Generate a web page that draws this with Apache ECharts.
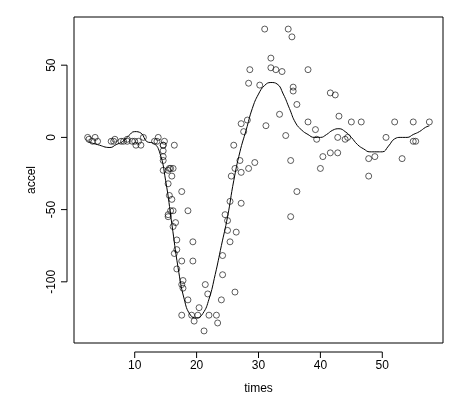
<!DOCTYPE html><html><head><meta charset="utf-8"><script src="https://cdn.jsdelivr.net/npm/echarts@6/dist/echarts.min.js"></script></head><body style="margin:0;background:#fff"><div id="c" style="width:474px;height:400px"></div><script>
const times=[2.4,2.6,3.2,3.6,4.0,6.2,6.6,6.8,7.8,8.2,8.8,8.8,9.6,10.0,10.2,10.6,11.0,11.4,13.2,13.6,13.8,14.6,14.6,14.6,14.6,14.6,14.6,14.8,15.4,15.4,15.4,15.4,15.6,15.6,15.8,15.8,16.0,16.0,16.2,16.2,16.2,16.4,16.4,16.6,16.8,16.8,16.8,17.6,17.6,17.6,17.6,17.8,17.8,18.6,18.6,19.2,19.4,19.4,19.6,20.2,20.4,21.2,21.4,21.8,22.0,23.2,23.4,24.0,24.2,24.2,24.6,25.0,25.0,25.4,25.4,25.6,26.0,26.2,26.2,26.4,27.0,27.2,27.2,27.2,27.6,28.2,28.4,28.4,28.6,29.4,30.2,31.0,31.2,32.0,32.0,32.8,33.4,33.8,34.4,34.8,35.2,35.2,35.4,35.6,35.6,36.2,36.2,38.0,38.0,39.2,39.4,40.0,40.4,41.6,41.6,42.4,42.8,42.8,43.0,44.0,44.4,45.0,46.6,47.8,47.8,48.8,50.6,52.0,53.2,55.0,55.0,55.4,57.6];
const accel=[0.0,-1.3,-2.7,0.0,-2.7,-2.7,-2.7,-1.3,-2.7,-2.7,-1.3,-2.7,-2.7,-2.7,-5.4,-2.7,-5.4,0.0,-2.7,-2.7,0.0,-13.3,-5.4,-5.4,-9.3,-16.0,-22.8,-2.7,-22.8,-32.1,-53.5,-54.9,-40.2,-21.5,-21.5,-50.8,-42.9,-26.8,-21.5,-50.8,-61.7,-5.4,-80.4,-59.0,-71.0,-91.1,-77.7,-37.5,-85.6,-123.1,-101.9,-99.1,-104.4,-112.5,-50.8,-123.1,-85.6,-72.3,-127.2,-123.1,-117.9,-134.0,-101.9,-108.4,-123.1,-123.1,-128.5,-112.5,-95.1,-81.8,-53.5,-64.4,-57.6,-72.3,-44.3,-26.8,-5.4,-107.1,-21.5,-65.6,-16.0,-45.6,-24.2,9.5,4.0,12.0,-21.5,37.5,46.9,-17.4,36.2,75.0,8.1,54.9,48.2,46.9,16.0,45.6,1.3,75.0,-16.0,-54.9,69.6,34.8,32.1,-37.5,22.8,46.9,10.7,5.4,-1.3,-21.5,-13.3,30.8,-10.7,29.4,0.0,-10.7,14.7,-1.3,0.0,10.7,10.7,-26.8,-14.7,-13.3,0.0,10.7,-14.7,-2.7,10.7,-2.7,10.7];
const fitX=[2.4,4,6,7,8,9,10,11,12,13,14,15,16,17,18,19,20,21,22,23,24,25,26,27,28,29,30,31,32,33,34,35,36,37,38,39,40,41,42,43,44,45,46,47,48,49,50,51,52,53,54,55,56,57,57.6];
const fitY=[-3,-5,-7,-5,-3,1,4,3,-3,-4,-10,-30,-60,-90,-112,-123,-125,-122,-112,-95,-75,-55,-30,-10,5,20,30,36,38,37,30,20,10,5,2,0,0,2,5,6,4,0,-5,-8,-10,-10,-10,-6,-1,0,0,2,4,7,8];
const xTicks=[10,20,30,40,50], yTicks=[-100,-50,0,50];
const pts=times.map((t,i)=>[t,accel[i]]);
const fit=fitX.map((t,i)=>[t,fitY[i]]);
const f='Liberation Sans';
const c=echarts.init(document.getElementById('c'));
const xMin=0.192,xMax=59.808,yMin=-142.36,yMax=83.36,off=7,tl=6;
const gx=74,gr=31,gt=17,gb=55,W=474,H=400;
c.setOption({animation:false,
grid:{left:gx,right:gr,top:gt,bottom:gb,show:true,borderColor:'#000',borderWidth:1,containLabel:false},
xAxis:{type:'value',min:xMin,max:xMax,name:'times',nameLocation:'middle',nameGap:40,nameTextStyle:{fontFamily:f,fontSize:12,color:'#000'},
 splitLine:{show:false},axisLine:{show:false,onZero:false},axisTick:{show:false},
 axisLabel:{customValues:xTicks,fontFamily:f,fontSize:12,color:'#000',margin:off+tl+4}},
yAxis:{type:'value',min:yMin,max:yMax,name:'accel',nameLocation:'middle',nameGap:36,nameTextStyle:{fontFamily:f,fontSize:12,color:'#000'},
 splitLine:{show:false},axisLine:{show:false,onZero:false},axisTick:{show:false},
 axisLabel:{customValues:yTicks,rotate:90,fontFamily:f,fontSize:12,color:'#000',margin:off+tl+3}},
series:[{type:'scatter',data:pts,symbol:'circle',symbolSize:6,itemStyle:{color:'transparent',borderColor:'#000',borderWidth:0.8}},
{type:'line',data:fit,smooth:true,showSymbol:false,lineStyle:{color:'#000',width:1}}]});
const els=[];const ls={stroke:'#000',lineWidth:1};
const by=H-gb+off, lx=gx-off;
const xp=v=>c.convertToPixel({xAxisIndex:0},v), yp=v=>c.convertToPixel({yAxisIndex:0},v);
els.push({type:'line',shape:{x1:xp(xTicks[0]),y1:by,x2:xp(xTicks[xTicks.length-1]),y2:by},style:ls});
xTicks.forEach(v=>els.push({type:'line',shape:{x1:xp(v),y1:by,x2:xp(v),y2:by+tl},style:ls}));
els.push({type:'line',shape:{x1:lx,y1:yp(yTicks[0]),x2:lx,y2:yp(yTicks[yTicks.length-1])},style:ls});
yTicks.forEach(v=>els.push({type:'line',shape:{x1:lx,y1:yp(v),x2:lx-tl,y2:yp(v)},style:ls}));
c.setOption({graphic:{elements:els}});
</script></body></html>
